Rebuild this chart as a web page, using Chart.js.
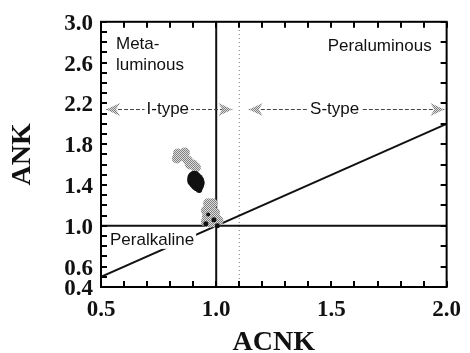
<!DOCTYPE html>
<html>
<head>
<meta charset="utf-8">
<script src="https://cdn.jsdelivr.net/npm/chart.js@4.4.1/dist/chart.umd.min.js"></script>
<style>
  html, body { margin: 0; padding: 0; background: #fff; }
  #wrap { width: 470px; height: 353px; }
</style>
</head>
<body>
<div id="wrap"><canvas id="acnk" width="470" height="353"></canvas></div>
<script>
(function () {
  "use strict";

  // stippled (grey) samples
  var greyAcnk = [0.834, 0.855, 0.877, 0.899, 0.912, 0.829, 0.864, 0.886,
                  0.965, 0.985, 0.975, 0.955, 0.975, 0.995, 0.960, 0.980, 1.000, 0.955, 0.975, 0.995, 1.010];
  var greyAnk  = [1.709, 1.680, 1.641, 1.602, 1.573, 1.660, 1.718, 1.602,
                  1.220, 1.220, 1.190, 1.150, 1.140, 1.130, 1.090, 1.080, 1.070, 1.040, 1.030, 1.030, 1.050];

  // solid (black) samples
  var blackAcnk = [0.905, 0.912, 0.918, 0.922, 0.926, 0.900, 0.924,
                   0.955, 0.990, 0.965, 1.005];
  var blackAnk  = [1.470, 1.440, 1.410, 1.380, 1.350, 1.445, 1.425,
                   1.020, 1.060, 1.110, 1.000];

  // field boundaries
  var diagAcnk = [0.5, 2.0];
  var diagAnk = [0.5, 2.0];
  var unitAcnk = [1.0, 1.0];
  var unitAnkSpan = [0.4, 3.0];
  var splitAcnk = [1.1, 1.1];
  var horizAcnk = [0.5, 2.0];
  var horizAnk = [1.0, 1.0];

  // I-type / S-type ranges
  var iTypeSpan = [0.5, 1.07];
  var sTypeSpan = [1.12, 1.99];
  var typeAnk = 2.14;

  var yLabelTicks = [0.4, 0.6, 1.0, 1.4, 1.8, 2.2, 2.6, 3.0];
  var xLabelTicks = [0.5, 1.0, 1.5, 2.0];
  var minorStep = 0.1;

  function pairs(xs, ys) {
    return xs.map(function (x, i) { return { x: x, y: ys[i] }; });
  }

  function hasValue(list, v) {
    return list.some(function (t) { return Math.abs(t - v) < 1e-6; });
  }

  function stepsBetween(min, max) {
    var out = [];
    var n = Math.round((max - min) / minorStep);
    for (var i = 0; i <= n; i++) out.push(Math.round((min + i * minorStep) * 10) / 10);
    return out;
  }

  // halftone-like grey fill
  function makeStipple(dark, light) {
    var c = document.createElement("canvas");
    c.width = 2; c.height = 2;
    var g = c.getContext("2d");
    g.fillStyle = light; g.fillRect(0, 0, 2, 2);
    g.fillStyle = dark; g.fillRect(0, 0, 1, 1); g.fillRect(1, 1, 1, 1);
    return document.getElementById("acnk").getContext("2d").createPattern(c, "repeat");
  }

  var stipple = makeStipple("#808080", "#dcdcdc");
  var serif = "'Liberation Serif', 'Times New Roman', serif";
  var sans = "'Liberation Sans', Arial, sans-serif";

  var notes = [
    { text: "Meta-", x: 0.565, y: 2.73, align: "left", base: "alphabetic" },
    { text: "luminous", x: 0.565, y: 2.53, align: "left", base: "alphabetic" },
    { text: "Peraluminous", x: 1.935, y: 2.71, align: "right", base: "alphabetic" },
    { text: "I-type", x: 0.79, y: typeAnk, align: "center", base: "middle", box: true },
    { text: "S-type", x: 1.514, y: typeAnk, align: "center", base: "middle", box: true },
    { text: "Peralkaline", x: 0.539, y: 0.862, align: "left", base: "middle", box: true }
  ];

  function drawArrowHead(ctx, tipX, y, dir) {
    ctx.beginPath();
    ctx.moveTo(tipX, y);
    ctx.lineTo(tipX - dir * 14, y - 6.5);
    ctx.lineTo(tipX - dir * 10, y);
    ctx.lineTo(tipX - dir * 14, y + 6.5);
    ctx.closePath();
    ctx.fill();
  }

  var overlay = {
    id: "overlay",
    afterDraw: function (chart) {
      var ctx = chart.ctx, a = chart.chartArea;
      var xs = chart.scales.x, ys = chart.scales.y;
      ctx.save();

      // type arrows
      [iTypeSpan, sTypeSpan].forEach(function (span) {
        var x0 = xs.getPixelForValue(span[0]) + 5;
        var x1 = xs.getPixelForValue(span[1]);
        var py = ys.getPixelForValue(typeAnk);
        ctx.strokeStyle = "#444";
        ctx.lineWidth = 1;
        ctx.setLineDash([4, 2]);
        ctx.beginPath();
        ctx.moveTo(x0, py); ctx.lineTo(x1, py);
        ctx.stroke();
        ctx.setLineDash([]);
        ctx.fillStyle = stipple;
        drawArrowHead(ctx, x0, py, -1);
        drawArrowHead(ctx, x1, py, 1);
      });

      // field names
      ctx.font = "17px " + sans;
      notes.forEach(function (n) {
        var px = xs.getPixelForValue(n.x);
        var py = ys.getPixelForValue(n.y);
        ctx.textAlign = n.align;
        ctx.textBaseline = n.base;
        if (n.box) {
          var w = ctx.measureText(n.text).width;
          var left = n.align === "center" ? px - w / 2 : (n.align === "right" ? px - w : px);
          ctx.fillStyle = "#fff";
          ctx.fillRect(left - 2, py - 9, w + 4, 18);
        }
        ctx.fillStyle = "#111";
        ctx.fillText(n.text, px, py);
      });

      // frame with inward ticks (every 0.1; right side every 0.2)
      ctx.strokeStyle = "#000";
      ctx.lineWidth = 2;
      ctx.setLineDash([]);
      ctx.beginPath();
      stepsBetween(xs.min, xs.max).forEach(function (v) {
        var px = Math.round(xs.getPixelForValue(v));
        ctx.moveTo(px, a.bottom); ctx.lineTo(px, a.bottom - 6);
        ctx.moveTo(px, a.top); ctx.lineTo(px, a.top + 6);
      });
      stepsBetween(ys.min, ys.max).forEach(function (v) {
        var py = Math.round(ys.getPixelForValue(v));
        ctx.moveTo(a.left, py); ctx.lineTo(a.left + 6, py);
        if (Math.round(v * 10) % 2 === 0) {
          ctx.moveTo(a.right, py); ctx.lineTo(a.right - 6, py);
        }
      });
      ctx.stroke();
      ctx.strokeRect(a.left, a.top, a.right - a.left, a.bottom - a.top);
      ctx.restore();
    }
  };

  function lineSet(xs, ys, opts) {
    return Object.assign({
      data: pairs(xs, ys),
      showLine: true,
      pointRadius: 0,
      borderColor: "#111",
      borderWidth: 2,
      fill: false
    }, opts || {});
  }

  new Chart(document.getElementById("acnk"), {
    type: "scatter",
    data: {
      datasets: [
        {
          data: pairs(blackAcnk, blackAnk),
          pointRadius: [7, 8, 7, 5, 3, 6, 6, 2.5, 2.5, 2, 2.5],
          pointBackgroundColor: "#111",
          pointBorderWidth: 0
        },
        {
          data: pairs(greyAcnk, greyAnk),
          pointRadius: 5,
          pointBackgroundColor: stipple,
          pointBorderWidth: 0
        },
        lineSet(diagAcnk, diagAnk),
        lineSet(horizAcnk, horizAnk),
        lineSet(unitAcnk, unitAnkSpan),
        lineSet(splitAcnk, unitAnkSpan, { borderColor: "#777", borderWidth: 1, borderDash: [1, 3] })
      ]
    },
    options: {
      responsive: false,
      animation: false,
      events: [],
      layout: { padding: { top: 19, right: 23, left: 0, bottom: 0 } },
      plugins: { legend: { display: false }, tooltip: { enabled: false } },
      scales: {
        x: {
          type: "linear",
          min: 0.5,
          max: 2.0,
          grid: { display: false, drawTicks: false },
          border: { display: false },
          ticks: {
            stepSize: 0.1,
            autoSkip: false,
            maxRotation: 0,
            padding: 9,
            color: "#111",
            font: { family: serif, size: 23, weight: "bold" },
            callback: function (v) { return hasValue(xLabelTicks, v) ? v.toFixed(1) : ""; }
          },
          title: {
            display: true,
            text: "ACNK",
            color: "#111",
            font: { family: serif, size: 28, weight: "bold", lineHeight: 1 },
            padding: { top: 0, bottom: -4 }
          },
          afterFit: function (scale) { scale.height = 66; }
        },
        y: {
          type: "linear",
          min: 0.4,
          max: 3.0,
          grid: { display: false, drawTicks: false },
          border: { display: false },
          ticks: {
            stepSize: 0.1,
            autoSkip: false,
            padding: 8,
            labelOffset: 2,
            color: "#111",
            font: { family: serif, size: 23, weight: "bold" },
            callback: function (v) { return hasValue(yLabelTicks, v) ? v.toFixed(1) : ""; }
          },
          title: {
            display: true,
            text: "ANK",
            color: "#111",
            font: { family: serif, size: 28, weight: "bold", lineHeight: 1 },
            padding: { top: 9, bottom: 0 }
          },
          afterFit: function (scale) { scale.width = 101; }
        }
      }
    },
    plugins: [overlay]
  });
})();
</script>
</body>
</html>
